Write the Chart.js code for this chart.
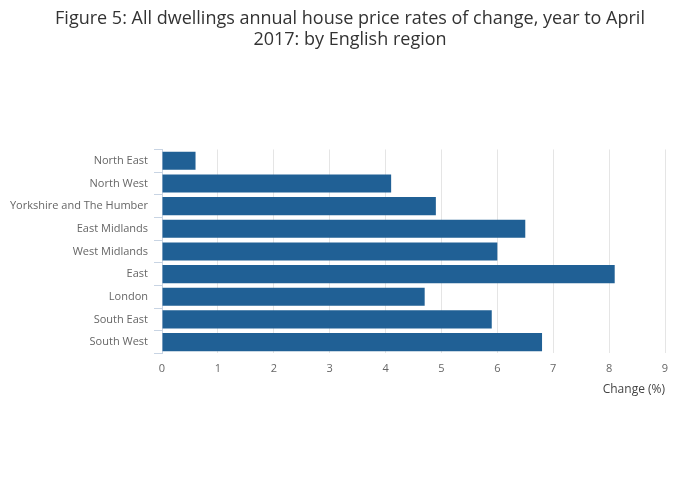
<!DOCTYPE html>
<html>
<head>
<meta charset="utf-8">
<script src="https://cdn.jsdelivr.net/npm/chart.js@4"></script>
<style>
  html, body { margin: 0; padding: 0; background: #fff; }
  #wrap { width: 700px; height: 502px; }
</style>
</head>
<body>
<div id="wrap"><canvas id="grafico" width="700" height="502"></canvas></div>
<script>
const regioes = ['North East', 'North West', 'Yorkshire and The Humber', 'East Midlands',
  'West Midlands', 'East', 'London', 'South East', 'South West'];
const variacao = [0.6, 4.1, 4.9, 6.5, 6.0, 8.1, 4.7, 5.9, 6.8];
const titulo = ['Figure 5: All dwellings annual house price rates of change, year to April', '2017: by English region'];
const eixoX = 'Change (%)';

const ctx = document.getElementById('grafico').getContext('2d');

new Chart(ctx, {
  type: 'bar',
  data: {
    labels: regioes,
    datasets: [{
      label: 'Change (%)',
      data: variacao,
      backgroundColor: '#206095',
      borderColor: '#206095',
      borderWidth: 0,
      barPercentage: 0.8,
      categoryPercentage: 1.0
    }]
  },
  options: {
    indexAxis: 'y',
    responsive: false,
    animation: false,
    layout: { padding: { left: 0, right: 0, top: 0, bottom: 105 } },
    plugins: {
      legend: { display: false },
      tooltip: { enabled: false },
      title: {
        display: true,
        text: titulo,
        color: '#333',
        font: { family: 'Open Sans', size: 18, weight: 'normal', lineHeight: 1.18 },
        padding: { top: 8, bottom: 99 }
      }
    },
    scales: {
      x: {
        min: 0,
        max: 9,
        ticks: {
          stepSize: 1,
          color: '#666',
          padding: 9,
          font: { family: 'Open Sans', size: 11 }
        },
        grid: {
          color: (c) => c.tick && c.tick.value === 0 ? 'rgba(0,0,0,0)' : '#e5e5e5',
          drawTicks: false
        },
        border: { display: false },
        title: {
          display: true,
          text: eixoX,
          align: 'end',
          color: '#444',
          font: { family: 'Open Sans', size: 12 },
          padding: { top: -2, bottom: 0 }
        }
      },
      y: {
        afterFit: (scale) => { scale.width = 162; },
        ticks: {
          color: '#666',
          padding: 6,
          font: { family: 'Open Sans', size: 11 }
        },
        grid: {
          offset: true,
          drawOnChartArea: false,
          color: '#c8d4e3',
          tickLength: 8
        },
        border: { display: true, color: '#c8d4e3' }
      },
      // empty right-hand box so the plot stops at 9 while the title stays centred
      vazio: {
        axis: 'y',
        type: 'category',
        position: 'right',
        afterFit: (scale) => { scale.width = 35; },
        ticks: { display: false },
        grid: { display: false },
        border: { display: false }
      }
    }
  }
});
</script>
</body>
</html>
